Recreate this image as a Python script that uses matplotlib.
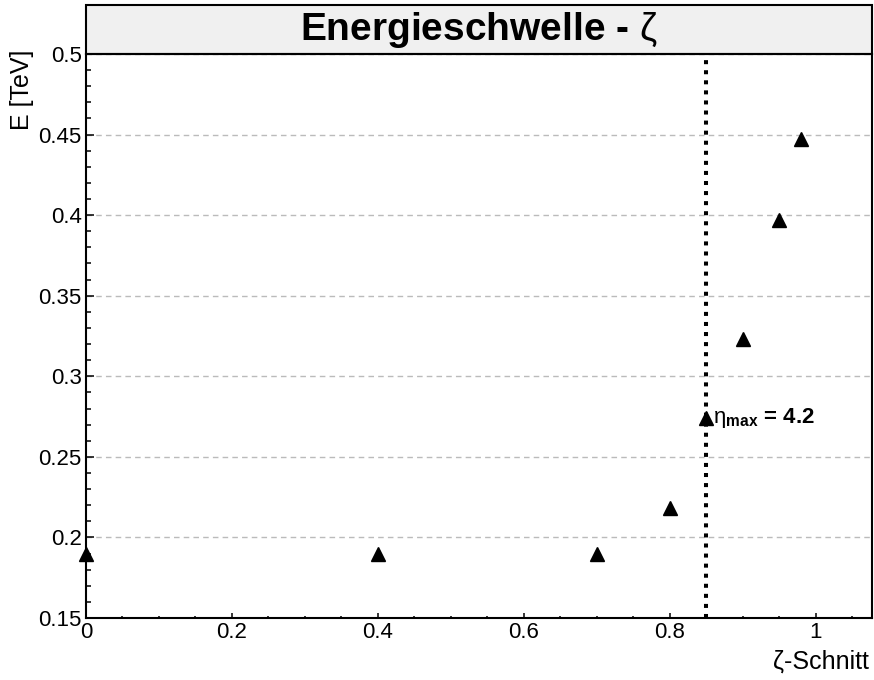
import matplotlib
matplotlib.use("Agg")
import matplotlib.pyplot as plt
from matplotlib.patches import Rectangle
from matplotlib.ticker import MultipleLocator

plt.rcParams['font.family'] = ['Liberation Sans', 'DejaVu Sans']
plt.rcParams['mathtext.fontset'] = 'custom'
plt.rcParams['mathtext.rm'] = 'Liberation Sans'
plt.rcParams['mathtext.it'] = 'Liberation Sans:italic'
plt.rcParams['mathtext.bf'] = 'Liberation Sans:bold'

# daten
zeta_schnitt = [0.0, 0.4, 0.7, 0.8, 0.85, 0.9, 0.95, 0.98]
energie = [0.190, 0.190, 0.190, 0.218, 0.274, 0.323, 0.397, 0.447]
eta_max_schnitt = 0.85

fig = plt.figure(figsize=(8.74, 6.8), dpi=100)
ax = fig.add_axes([86/874, 1-618/680, (872-86)/874, (618-54)/680])

ax.plot(zeta_schnitt, energie, linestyle='none', marker='^', ms=9.5, color='black',
        clip_on=False, zorder=4)
ax.axvline(eta_max_schnitt, color='black', lw=2.9, linestyle=(0, (1.0, 1.5)),
           dash_capstyle='butt', zorder=3)

ax.set_xlim(0, 1.077)
ax.set_ylim(0.15, 0.5)
ax.xaxis.set_minor_locator(MultipleLocator(0.05))
ax.yaxis.set_minor_locator(MultipleLocator(0.01))
ax.set_xticks([0, 0.2, 0.4, 0.6, 0.8, 1.0])
ax.set_xticklabels(['0', '0.2', '0.4', '0.6', '0.8', '1'])
ax.set_yticks([0.15, 0.2, 0.25, 0.3, 0.35, 0.4, 0.45, 0.5])
ax.set_yticklabels(['0.15', '0.2', '0.25', '0.3', '0.35', '0.4', '0.45', '0.5'])

ax.tick_params(axis='both', which='both', direction='in', labelsize=16, width=1.1)
ax.tick_params(axis='y', which='major', length=6, pad=3)
ax.tick_params(axis='y', which='minor', length=3.4)
ax.tick_params(axis='x', which='major', length=3.6, pad=3)
ax.tick_params(axis='x', which='minor', length=1.8)

ax.grid(axis='y', which='major', color='#bbbbbb', linestyle=(0, (4, 3)), lw=1)
ax.set_axisbelow(True)
for s in ax.spines.values():
    s.set_linewidth(1.5)

# titelbox
box = Rectangle((0, 1), 1, 49/564, transform=ax.transAxes, facecolor='#f0f0f0',
                edgecolor='black', lw=1.5, clip_on=False)
ax.add_patch(box)
ax.text(0.5, 1 + 24/564, r'Energieschwelle - $\mathrm{\zeta}$', transform=ax.transAxes,
        ha='center', va='center', fontsize=28, fontweight='bold')

ax.text(0.859, 0.274, r'$\mathrm{\eta}_{\mathbf{max}}$ = 4.2', fontsize=16,
        fontweight='bold', ha='left', va='center')

fig.text(22/874, 1-50/680, 'E [TeV]', rotation=90, ha='center', va='top', fontsize=18)
fig.text(869/874, 1-662/680, 'ζ-Schnitt', ha='right', va='center', fontsize=18)

fig.savefig('out.png', dpi=100)
